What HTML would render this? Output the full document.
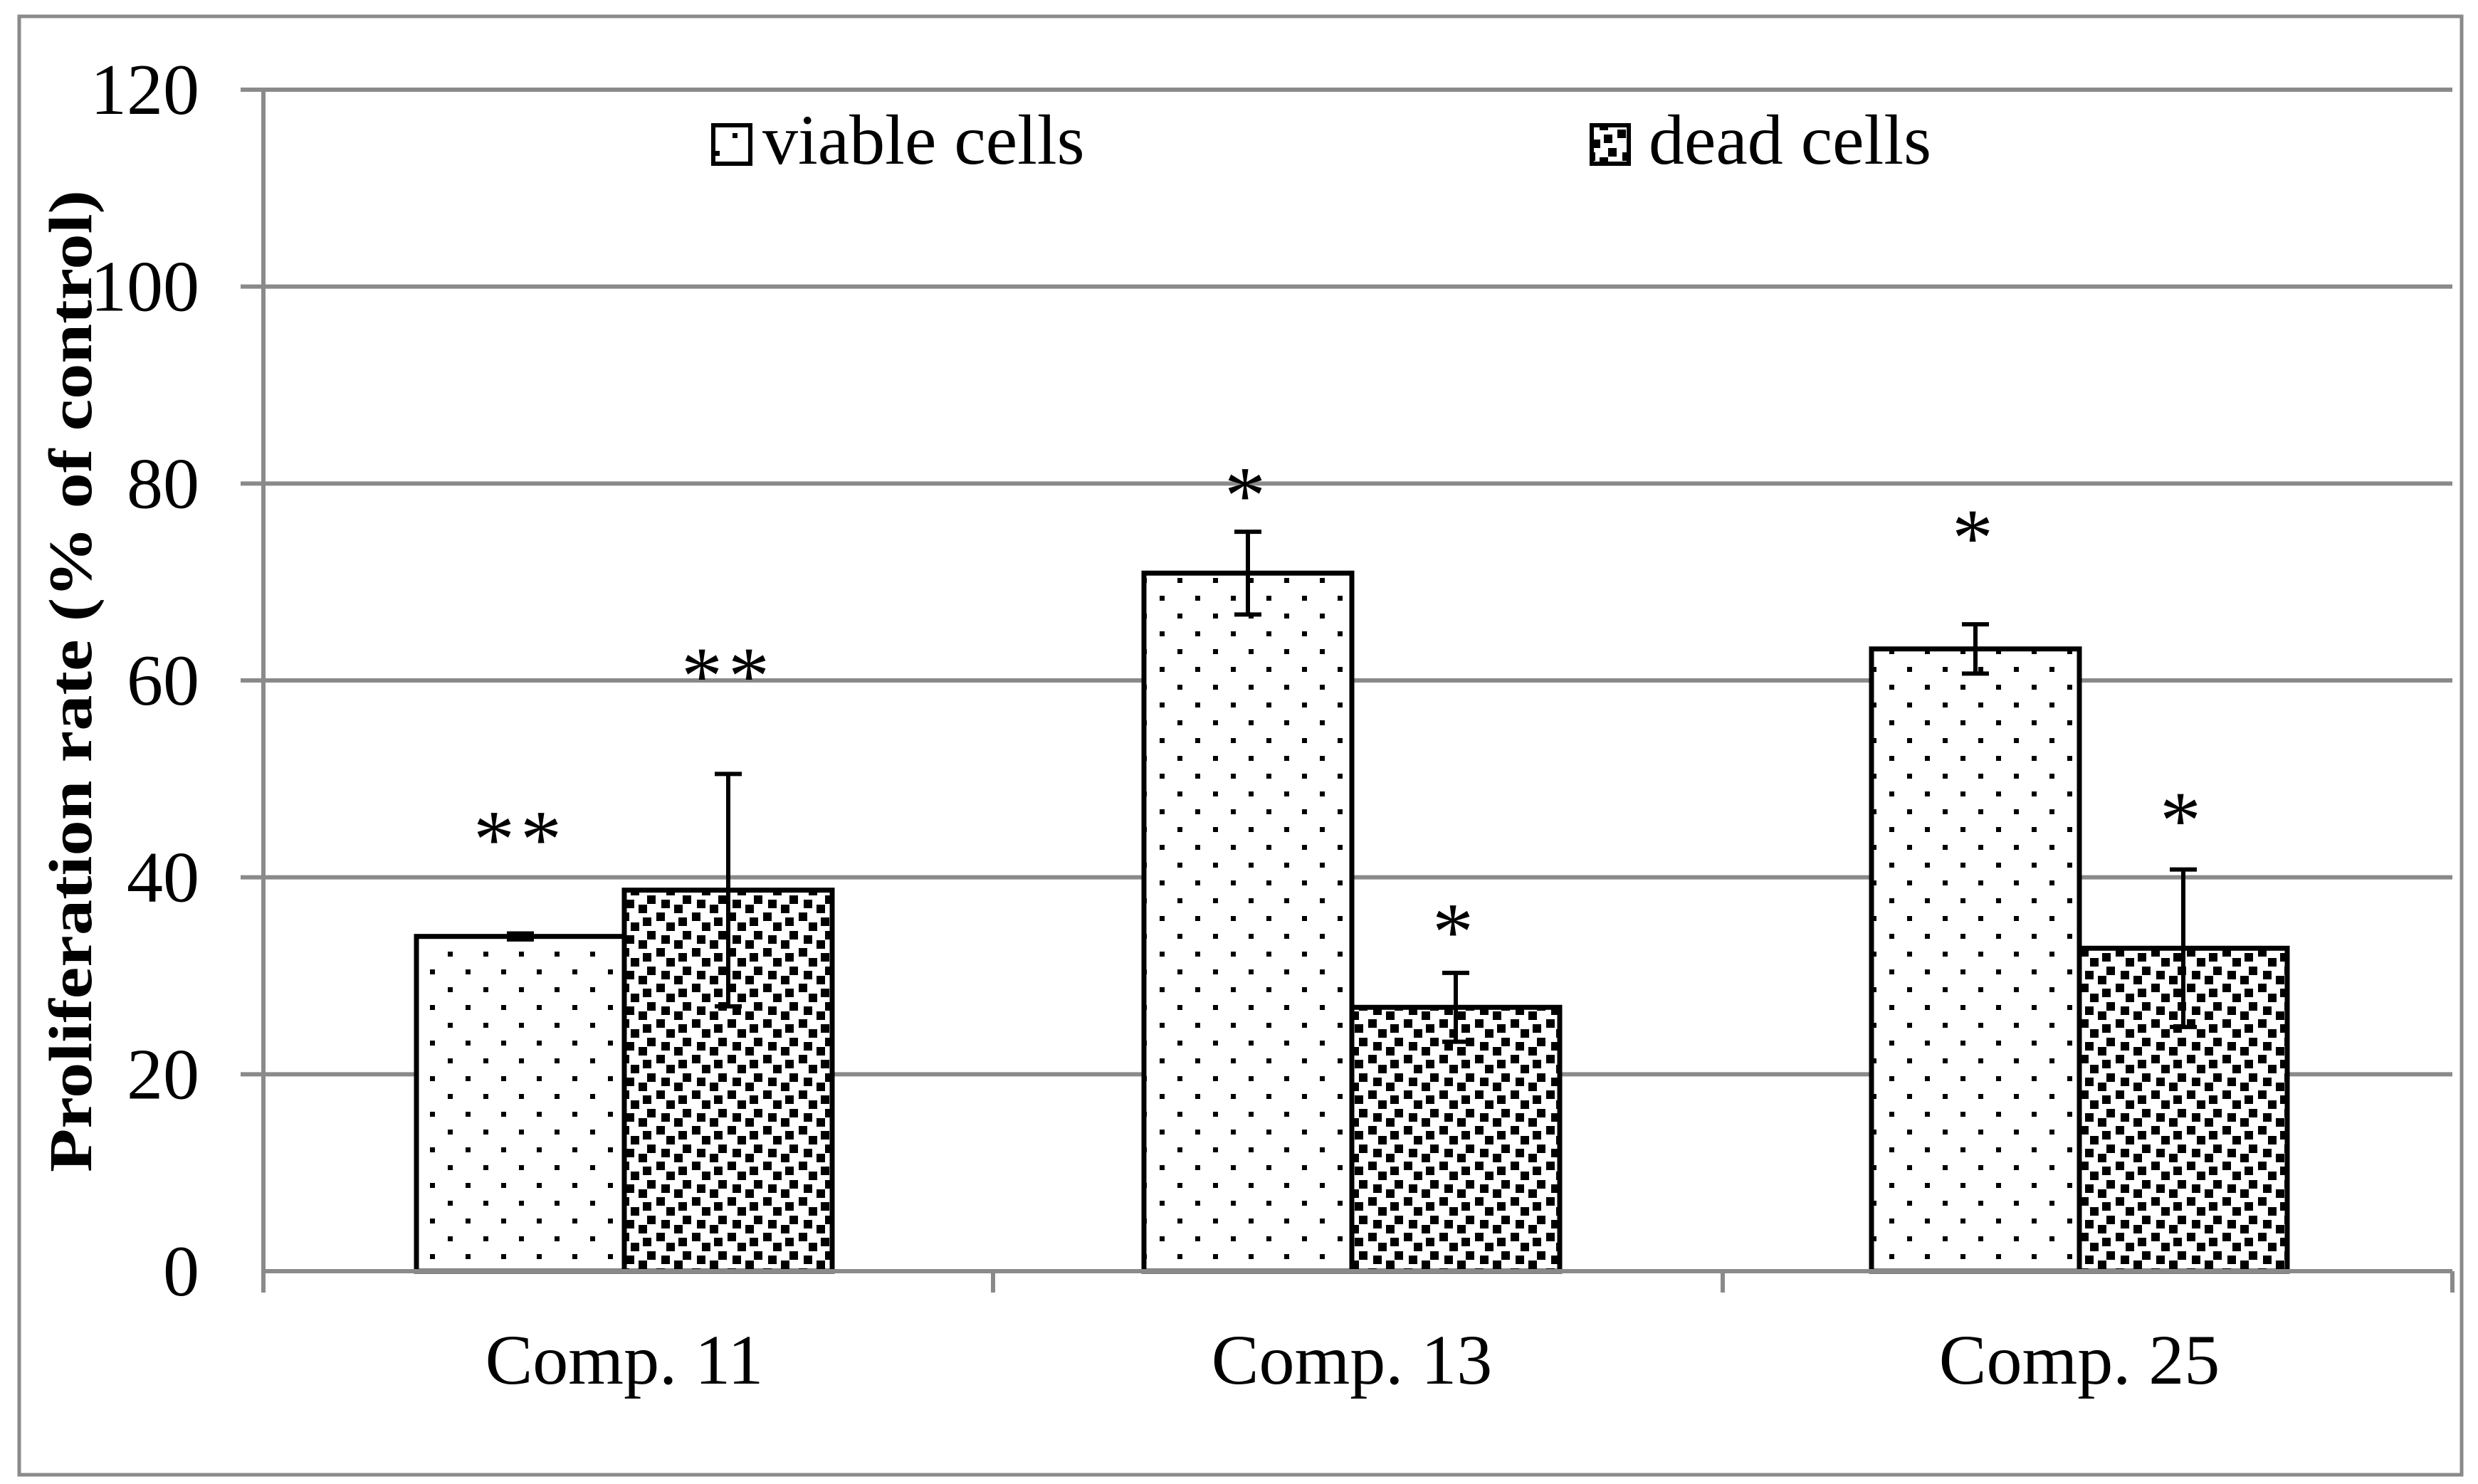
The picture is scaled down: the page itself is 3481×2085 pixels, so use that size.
<!DOCTYPE html>
<html><head><meta charset="utf-8"><style>html,body{margin:0;padding:0;background:#fff}svg{display:block}</style></head>
<body>
<svg id="chart" width="3481" height="2085" viewBox="0 0 3481 2085" xmlns="http://www.w3.org/2000/svg" font-family="'Liberation Serif', serif">
<defs>
<pattern id="dots" patternUnits="userSpaceOnUse" width="50" height="50" x="0" y="0">
<rect width="50" height="50" fill="#fff"/>
<rect x="4" y="12" width="7" height="7" fill="#000"/>
<rect x="29" y="37" width="7" height="7" fill="#000"/>
</pattern>
<pattern id="dense" patternUnits="userSpaceOnUse" width="50" height="50">
<rect width="50" height="50" fill="#fff"/>
<rect x="9" y="8" width="12" height="12" fill="#000"/>
<rect x="29" y="14" width="12" height="12" fill="#000"/>
<rect x="-3" y="21" width="12" height="12" fill="#000"/>
<rect x="47" y="21" width="12" height="12" fill="#000"/>
<rect x="22" y="32" width="12" height="12" fill="#000"/>
<rect x="3" y="39" width="12" height="12" fill="#000"/>
<rect x="36" y="-4" width="12" height="12" fill="#000"/>
<rect x="36" y="46" width="12" height="12" fill="#000"/>
<rect x="3" y="-11" width="12" height="12" fill="#000"/>
</pattern>
</defs>
<rect x="27" y="23" width="3431" height="2049" fill="none" stroke="#8a8a8a" stroke-width="5"/>
<g id="grid"></g>
<g id="bars"></g>
<g id="labels"></g>
<g>
<rect x="1002" y="176" width="52" height="54" fill="url(#dots)" stroke="#000" stroke-width="6"/>
<text x="1071" y="230" font-size="100">viable cells</text>
<rect x="2236" y="176" width="52" height="54" fill="url(#dense)" stroke="#000" stroke-width="6"/>
<text x="2316" y="230" font-size="100">dead cells</text>
</g>
<text transform="translate(128,957) rotate(-90)" text-anchor="middle" font-size="86" font-weight="bold" textLength="1380" lengthAdjust="spacingAndGlyphs">Proliferation rate (% of control)</text>
</svg>
<script>
const categories = ["Comp. 11", "Comp. 13", "Comp. 25"];
const viable = [34.0, 70.9, 63.2];
const viableErr = [0.3, 4.2, 2.5];
const dead = [38.7, 26.8, 32.8];
const deadErr = [11.8, 3.5, 8.0];
const viableStars = ["**", "*", "*"];
const deadStars = ["**", "*", "*"];
const viableStarY = [45.4, 80.3, 76.0];
const deadStarY = [62.0, 36.0, 47.3];
const yTicks = [0, 20, 40, 60, 80, 100, 120];

const NS = "http://www.w3.org/2000/svg";
const X0 = 370, X1 = 3445, Y0 = 1786, YTOP = 126, YMAX = 120;
const barW = 292;
function y(v){ return Y0 - (v / YMAX) * (Y0 - YTOP); }
function cx(i){ return X0 + (X1 - X0) / categories.length * (i + 0.5); }
function barC(i){ return 877 + 1022 * i; }
function mk(tag, attrs, parent){ const e = document.createElementNS(NS, tag); for (const k in attrs) e.setAttribute(k, attrs[k]); parent.appendChild(e); return e; }

const grid = document.getElementById('grid');
const bars = document.getElementById('bars');
const labels = document.getElementById('labels');

yTicks.forEach(t => {
  if (t > 0) {
    const g = mk('line', {x1: X0 - 32, x2: X1, y1: y(t), y2: y(t), stroke: '#8a8a8a', 'stroke-width': 6}, grid);
    
    
  }
  const tl = mk('text', {x: 280, y: y(t) + 34, 'text-anchor': 'end', 'font-size': 102}, labels);
  tl.textContent = t;
  
  
});
const ya = mk('line', {x1: X0, x2: X0, y1: YTOP - 3, y2: Y0 + 30, stroke: '#8a8a8a', 'stroke-width': 6}, grid);


for (let i = 0; i <= categories.length; i++) {
  const xx = X0 + (X1 - X0) / categories.length * i;
  const tk = mk('line', {x1: xx, x2: xx, y1: Y0, y2: Y0 + 30, stroke: '#8a8a8a', 'stroke-width': 6}, grid);
  
  
}

function drawBar(i, v, err, left, fill, name, stars, starV) {
  const x = left;
  const r = mk('rect', {x: x, y: y(v), width: barW, height: Y0 - y(v), fill: fill, stroke: '#000', 'stroke-width': 7}, bars);
  
  
  const mx = x + barW / 2;
  const eb = mk('path', {d: `M${mx},${y(v + err)}V${y(v - err)}M${mx - 19},${y(v + err)}H${mx + 19}M${mx - 19},${y(v - err)}H${mx + 19}`, stroke: '#000', 'stroke-width': 6, fill: 'none'}, bars);
  
  
  const s = mk('text', {x: mx, y: y(starV) + 60, 'text-anchor': 'middle', 'font-size': 116, 'letter-spacing': 8}, labels);
  s.textContent = stars;
  
  
}

categories.forEach((c, i) => {
  const center = barC(i);
  drawBar(i, viable[i], viableErr[i], center - barW, 'url(#dots)', 'viable', viableStars[i], viableStarY[i]);
  drawBar(i, dead[i], deadErr[i], center, 'url(#dense)', 'dead', deadStars[i], deadStarY[i]);
  const t = mk('text', {x: center, y: 1944, 'text-anchor': 'middle', 'font-size': 100}, labels);
  t.textContent = c;
  
  
});
const xa = mk('line', {x1: X0, x2: X1, y1: Y0, y2: Y0, stroke: '#8a8a8a', 'stroke-width': 6}, bars);


</script>
</body></html>
